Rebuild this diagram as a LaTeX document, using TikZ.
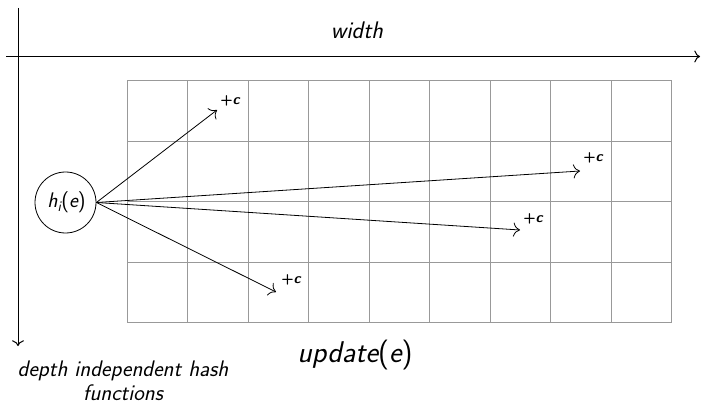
\documentclass[tikz,border=0pt]{standalone}
\usepackage{fontspec}
\usepackage{graphicx}
\usetikzlibrary{arrows.meta}
\begin{document}
\begin{tikzpicture}[x=1pt,y=-1pt, font=\sffamily,
  gridline/.style={draw=black!40, line width=0.9pt},
  axis/.style={-{To[scale=1.5]}, line width=1pt},
  hasharrow/.style={-{To[scale=2]}, line width=0.8pt},
  inc/.style={font=\sffamily\bfseries\fontsize{14.5}{16}\selectfont, inner sep=0pt},
  lbl/.style={font=\sffamily\itshape\fontsize{22.5}{24}\selectfont, align=center, inner sep=0pt}]
\useasboundingbox (0,0) rectangle (701,406);
% grid
\foreach \i in {0,...,9} \draw[gridline] (127+60.5*\i,80.5) -- (127+60.5*\i,322.5);
\foreach \j in {0,...,4} \draw[gridline] (127,80.5+60.5*\j) -- (671.5,80.5+60.5*\j);
% axes
\coordinate (xs) at (6,56.5);
\coordinate (xe) at (700,56.5);
\coordinate (ys) at (18,8);
\coordinate (ye) at (18,346);
\draw[axis] (xs) -- (xe);
\draw[axis] (ys) -- (ye);
% hash node
\node[draw, circle, line width=0.8pt, minimum size=61, inner sep=0pt] (h) at (65.5,202.5) {};
\node[inner sep=0pt, font=\sffamily\fontsize{24}{26}\selectfont] (ht) at ([xshift=1pt]h.center)
  {\scalebox{0.88}{\itshape h\textsubscript{\itshape i}\upshape(\itshape e\upshape)}};
% targets
\coordinate (t1) at (217,110);
\coordinate (t2) at (580,171);
\coordinate (t3) at (520,230);
\coordinate (t4) at (276,292);
\draw[hasharrow] (h.east) -- (t1);
\draw[hasharrow] (h.east) -- (t2);
\draw[hasharrow] (h.east) -- (t3);
\draw[hasharrow] (h.east) -- (t4);
\node[inc] (c1) at (230,101) {+\itshape c};
\node[inc] (c2) at (593,158) {+\itshape c};
\node[inc] (c3) at (533,219) {+\itshape c};
\node[inc] (c4) at (291,280) {+\itshape c};
% labels
\node[lbl, font=\sffamily\itshape\fontsize{24}{26}\selectfont] (w) at (357,30) {width};
\node[lbl] (d) at (123,381) {depth independent hash\\functions};
\node[lbl, font=\sffamily\fontsize{30}{32}\selectfont] (u) at (355,355)
  {\itshape update\upshape(\itshape e\upshape)};
\end{tikzpicture}
\end{document}
